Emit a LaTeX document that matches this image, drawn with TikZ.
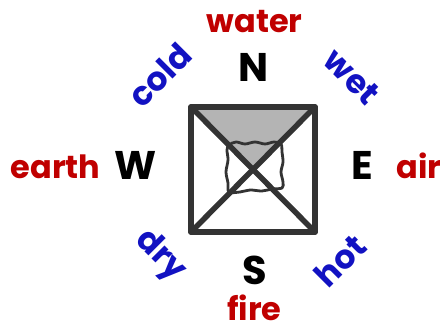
\documentclass[tikz,border=0pt]{standalone}
\usepackage{fontspec}
\setmainfont{Poppins}
\definecolor{rojoelem}{HTML}{C00000}
\definecolor{azulcual}{HTML}{1212C2}
\definecolor{trazo}{HTML}{333333}
\definecolor{sombra}{HTML}{B4B4B4}
\tikzset{
  punto/.style={anchor=base, inner sep=0pt, text=black, font=\fontsize{40}{40}\selectfont\bfseries},
  elemento/.style={anchor=base, inner sep=0pt, text=rojoelem, font=\fontsize{32}{32}\selectfont\bfseries},
  cualidad/.style={anchor=center, inner sep=0pt, text=azulcual, font=\fontsize{33}{33}\selectfont\bfseries},
  marco/.style={draw=trazo, line width=5.5pt, line join=round, line cap=round}
}
\newcommand{\cuadro}[4]{%
  \fill[sombra] (#1,#2) -- (#3,#2) -- ({(#1+#3)/2},{(#2+#4)/2}) -- cycle;
  \draw[trazo, line width=2.8pt, line join=round] plot[smooth cycle, tension=0.55] coordinates {
    (229,145) (236,142) (245,144) (255,142) (265,144) (274,142) (281,144)
    (282,152) (283,162) (281,172) (283,182) (282,188)
    (272,189) (262,191) (250,190) (240,192) (229,192)
    (228,183) (226,172) (228,160) (227,150)};
  \draw[marco] (#1,#2) rectangle (#3,#4);
  \draw[marco] (#1,#2) -- (#3,#4);
  \draw[marco] (#3,#2) -- (#1,#4);}

\begin{document}
\begin{tikzpicture}[x=1pt, y=-1pt]
  \useasboundingbox (0,0) rectangle (440,331);
  \cuadro{191}{107}{315}{232}
  \foreach \n/\px/\py/\t in {norte/253.5/82/N, sur/255/285/S, oeste/135.5/180/W, este/362.5/180/E}
    \node[punto] (\n) at (\px,\py) {\t};
  \foreach \n/\px/\py/\t in {agua/254.5/33/water, fuego/254.5/321/fire, tierra/55.5/179/earth, aire/419/179/air}
    \node[elemento] (\n) at (\px,\py) {\t};
  \foreach \n/\px/\py/\ang/\t in {frio/159.5/75/45/cold, humedo/352/77/-45/wet,
      seco/160/256/-45/dry, caliente/340/261/45/hot}
    \node[cualidad, rotate=\ang] (\n) at (\px,\py) {\t};
\end{tikzpicture}
\end{document}
